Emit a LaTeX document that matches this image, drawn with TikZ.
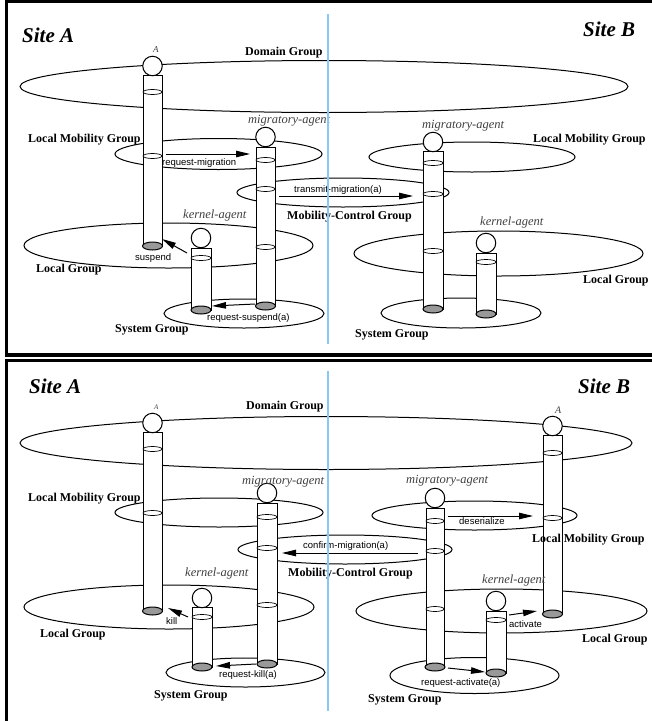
\documentclass[tikz,border=0pt]{standalone}
\usepackage{fontspec}
\setmainfont{Liberation Serif}
\newfontfamily\msgfont{Liberation Sans}
\usetikzlibrary{arrows.meta,shapes.geometric}

\tikzset{
	grp/.style={draw, ellipse, line width=1pt, inner sep=0pt},
	pipe/.style={draw, fill=white, line width=1pt},
	ring/.style={draw, fill=white, line width=0.7pt},
	foot/.style={draw, fill=black!40, line width=1pt},
	head/.style={draw, circle, fill=white, minimum size=19.5pt, inner sep=0pt, line width=1pt},
	msg/.style={-{Triangle[length=14pt,width=6.5pt]}, line width=1pt},
	grplabel/.style={font=\fontsize{12}{14}\selectfont\bfseries, anchor=base west, inner sep=0pt},
	agentlabel/.style={font=\fontsize{12.5}{14}\selectfont\itshape, text=black!75, anchor=base west, inner sep=0pt},
	msglabel/.style={font=\msgfont\fontsize{9.5}{11}\selectfont, anchor=base west, inner sep=0pt},
	sitelabel/.style={font=\fontsize{21}{24}\selectfont\bfseries\itshape, anchor=base west, inner sep=0pt},
	wall/.style={line width=3.5pt, line join=miter},
	divider/.style={line width=2.5pt, color={rgb,255:red,135;green,200;blue,245}}
}

\begin{document}
\begin{tikzpicture}[x=1pt,y=-1pt]
		\clip (0,0) rectangle (652,721);
		\fill[white] (0,0) rectangle (652,721);
		% frames
		\draw[wall] (700,1.5) -- (6.5,1.5) -- (6.5,355) -- (700,355);
		\draw[wall] (700,360.5) -- (6.5,360.5) -- (6.5,760);

		% groups, upper panel
		\node[grp, minimum width=608pt, minimum height=52pt] (dom1) at (324,86.5) {};
		\node[grp, minimum width=207pt, minimum height=31pt] (lmA1) at (218.5,154) {};
		\node[grp, minimum width=206pt, minimum height=30pt] (lmB1) at (472,157) {};
		\node[grp, minimum width=212pt, minimum height=29pt] (mc1) at (343,192.5) {};
		\node[grp, minimum width=289pt, minimum height=45pt] (lgA1) at (168.5,245.5) {};
		\node[grp, minimum width=289pt, minimum height=45pt] (lgB1) at (498.5,253.5) {};
		\node[grp, minimum width=160pt, minimum height=29pt] (sgA1) at (244,313.5) {};
		\node[grp, minimum width=160pt, minimum height=30pt] (sgB1) at (461,313) {};

		% groups, lower panel
		\node[grp, minimum width=612pt, minimum height=53pt] (dom2) at (326,443) {};
		\node[grp, minimum width=208pt, minimum height=29pt] (lmA2) at (219,512.5) {};
		\node[grp, minimum width=205pt, minimum height=29pt] (lmB2) at (474.5,515.5) {};
		\node[grp, minimum width=214pt, minimum height=29pt] (mc2) at (345,549.5) {};
		\node[grp, minimum width=290pt, minimum height=44pt] (lgA2) at (169,607) {};
		\node[grp, minimum width=291pt, minimum height=44pt] (lgB2) at (501.5,611) {};
		\node[grp, minimum width=159pt, minimum height=29pt] (sgA2) at (245.5,672.5) {};
		\node[grp, minimum width=169pt, minimum height=36pt] (sgB2) at (474.5,675.5) {};

		% agents, upper panel
		\draw[pipe] (143,75) rectangle (162,246);
		\foreach \y in {92,156} \draw[ring] (152.5,\y) ellipse [x radius=9.5pt, y radius=2.5pt];
		\draw[foot] (152.5,246) ellipse [x radius=10pt, y radius=4pt];
		\node[head] (hA1) at (152.5,66) {};

		\draw[pipe] (256,147) rectangle (275,306);
		\foreach \y in {160,189,247} \draw[ring] (265.5,\y) ellipse [x radius=9.5pt, y radius=2.5pt];
		\draw[foot] (265.5,306) ellipse [x radius=10pt, y radius=4pt];
		\node[head] (hM1) at (265.5,137) {};

		\draw[pipe] (191,248) rectangle (211,310);
		\draw[ring] (201,258) ellipse [x radius=10pt, y radius=2.5pt];
		\draw[foot] (201,310) ellipse [x radius=10pt, y radius=4pt];
		\node[head] (hK1) at (201,238) {};

		\draw[pipe] (423,151) rectangle (443,309);
		\foreach \y in {163,194,251} \draw[ring] (433,\y) ellipse [x radius=10pt, y radius=2.5pt];
		\draw[foot] (433,309) ellipse [x radius=10pt, y radius=4pt];
		\node[head] (hMB1) at (433,142) {};

		\draw[pipe] (476,253) rectangle (496,314);
		\draw[ring] (486,262) ellipse [x radius=10pt, y radius=2.5pt];
		\draw[foot] (486,314) ellipse [x radius=10pt, y radius=4pt];
		\node[head] (hKB1) at (486,243) {};

		% agents, lower panel
		\draw[pipe] (143,432) rectangle (162,611);
		\foreach \y in {449,513} \draw[ring] (152.5,\y) ellipse [x radius=9.5pt, y radius=2.5pt];
		\draw[foot] (152.5,611) ellipse [x radius=10pt, y radius=4pt];
		\node[head] (hA2) at (152.5,423) {};

		\draw[pipe] (257,503) rectangle (277,664);
		\foreach \y in {517,548,605} \draw[ring] (267,\y) ellipse [x radius=10pt, y radius=2.5pt];
		\draw[foot] (267,664) ellipse [x radius=10pt, y radius=4pt];
		\node[head] (hM2) at (267,493) {};

		\draw[pipe] (192,607) rectangle (212,667);
		\draw[ring] (202,617) ellipse [x radius=10pt, y radius=2.5pt];
		\draw[foot] (202,667) ellipse [x radius=10pt, y radius=4pt];
		\node[head] (hK2) at (202,598) {};

		\draw[pipe] (543,435) rectangle (562,614);
		\foreach \y in {453,518} \draw[ring] (552.5,\y) ellipse [x radius=9.5pt, y radius=2.5pt];
		\draw[foot] (552.5,614) ellipse [x radius=10pt, y radius=4pt];
		\node[head] (hAB2) at (552.5,426) {};

		\draw[pipe] (426,508) rectangle (444,667);
		\foreach \y in {521,551,609} \draw[ring] (435,\y) ellipse [x radius=9pt, y radius=2.5pt];
		\draw[foot] (435,667) ellipse [x radius=10pt, y radius=4pt];
		\node[head] (hMB2) at (435,498) {};

		\draw[pipe] (486,611) rectangle (506,673);
		\draw[ring] (496,620) ellipse [x radius=10pt, y radius=2.5pt];
		\draw[foot] (496,673) ellipse [x radius=10pt, y radius=4pt];
		\node[head] (hKB2) at (496,601) {};

		% labels, upper panel
		\node[sitelabel] (siteA1) at (22,42) {Site A};
		\node[sitelabel] (siteB1) at (583,36) {Site B};
		\node[agentlabel, font=\fontsize{9}{10}\selectfont\itshape] (lA1) at (153,52) {A};
		\node[grplabel] (ldom1) at (245,55) {Domain Group};
		\node[agentlabel] (lM1) at (248,123) {migratory-agent};
		\node[agentlabel] (lMB1) at (422,128) {migratory-agent};
		\node[grplabel] (llmA1) at (28,142) {Local Mobility Group};
		\node[grplabel] (llmB1) at (533,142) {Local Mobility Group};
		\node[grplabel] (lmc1) at (287,219) {Mobility-Control Group};
		\node[agentlabel] (lK1) at (183,218) {kernel-agent};
		\node[agentlabel] (lKB1) at (480,225) {kernel-agent};
		\node[grplabel] (llgA1) at (36,272) {Local Group};
		\node[grplabel] (llgB1) at (583,283) {Local Group};
		\node[grplabel] (lsgA1) at (115,332) {System Group};
		\node[grplabel] (lsgB1) at (355,337) {System Group};

		% labels, lower panel
		\node[sitelabel] (siteA2) at (29,393) {Site A};
		\node[sitelabel] (siteB2) at (578,393) {Site B};
		\node[agentlabel, font=\fontsize{7}{8}\selectfont\itshape] (lA2) at (154,409) {A};
		\node[agentlabel, font=\fontsize{10}{11}\selectfont\itshape] (lAB2) at (555,413) {A};
		\node[grplabel] (ldom2) at (246,409) {Domain Group};
		\node[agentlabel] (lM2) at (242,484) {migratory-agent};
		\node[agentlabel] (lMB2) at (406,483) {migratory-agent};
		\node[grplabel] (llmA2) at (28,501) {Local Mobility Group};
		\node[grplabel] (llmB2) at (532,542) {Local Mobility Group};
		\node[grplabel] (lmc2) at (288,576) {Mobility-Control Group};
		\node[agentlabel] (lK2) at (185,576) {kernel-agent};
		\node[agentlabel] (lKB2) at (482,583) {kernel-agent};
		\node[grplabel] (llgA2) at (40,637) {Local Group};
		\node[grplabel] (llgB2) at (582,642) {Local Group};
		\node[grplabel] (lsgA2) at (154,698) {System Group};
		\node[grplabel] (lsgB2) at (368,702) {System Group};

		% messages, upper panel
		\coordinate (rm1s) at (166,154);
		\coordinate (rm1e) at (250,154);
		\draw[msg] (rm1s) -- (rm1e);
		\node[msglabel] (lrm1) at (162,165) {request-migration};
		\coordinate (tm1s) at (279,196);
		\coordinate (tm1e) at (413,196);
		\draw[msg] (tm1s) -- (tm1e);
		\node[msglabel] (ltm1) at (294,192) {transmit-migration(a)};
		\coordinate (su1s) at (187,253);
		\coordinate (su1e) at (162,239);
		\draw[msg] (su1s) -- (su1e);
		\node[msglabel] (lsu1) at (135,260) {suspend};
		\coordinate (rs1s) at (255,304);
		\coordinate (rs1e) at (212,306);
		\draw[msg] (rs1s) -- (rs1e);
		\node[msglabel] (lrs1) at (207,320) {request-suspend(a)};

		% messages, lower panel
		\coordinate (ki2s) at (188,617);
		\coordinate (ki2e) at (168,608);
		\draw[msg] (ki2s) -- (ki2e);
		\node[msglabel] (lki2) at (166,624) {kill};
		\coordinate (rk2s) at (256,664);
		\coordinate (rk2e) at (216,666);
		\draw[msg] (rk2s) -- (rk2e);
		\node[msglabel] (lrk2) at (219,677) {request-kill(a)};
		\coordinate (cm2s) at (418,553);
		\coordinate (cm2e) at (282,553);
		\draw[msg] (cm2s) -- (cm2e);
		\node[msglabel] (lcm2) at (303,548) {confirm-migration(a)};
		\coordinate (de2s) at (448,516);
		\coordinate (de2e) at (533,516);
		\draw[msg] (de2s) -- (de2e);
		\node[msglabel] (lde2) at (459,524) {deserialize};
		\coordinate (ac2s) at (509,615);
		\coordinate (ac2e) at (537,611);
		\draw[msg] (ac2s) -- (ac2e);
		\node[msglabel] (lac2) at (509,627) {activate};
		\coordinate (ra2s) at (448,668);
		\coordinate (ra2e) at (485,672);
		\draw[msg] (ra2s) -- (ra2e);
		\node[msglabel] (lra2) at (421,685) {request-activate(a)};

		% site border
		\draw[divider] (328,14) -- (328,344);
		\draw[divider] (328,371) -- (328,711);
	\end{tikzpicture}
\end{document}
